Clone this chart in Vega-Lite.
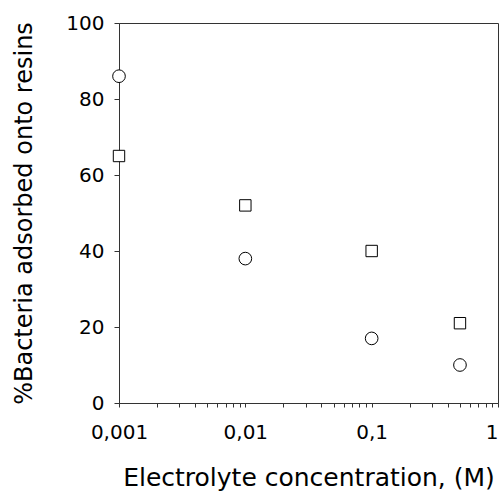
{
  "$schema": "https://vega.github.io/schema/vega-lite/v6.json",
  "width": 379,
  "height": 380,
  "autosize": {"type": "none"},
  "padding": {"left": 119, "top": 23, "right": 3, "bottom": 92},
  "background": "white",
  "config": {
    "view": {"stroke": "#333", "strokeWidth": 1},
    "font": "DejaVu Sans"
  },
  "data": {
    "values": [
      {"conc": 0.001, "pct": 86, "series": "A"},
      {"conc": 0.01, "pct": 38, "series": "A"},
      {"conc": 0.1, "pct": 17, "series": "A"},
      {"conc": 0.5, "pct": 10, "series": "A"},
      {"conc": 0.001, "pct": 65, "series": "B"},
      {"conc": 0.01, "pct": 52, "series": "B"},
      {"conc": 0.1, "pct": 40, "series": "B"},
      {"conc": 0.5, "pct": 21, "series": "B"}
    ]
  },
  "mark": {"type": "point", "filled": true, "fill": "white", "stroke": "black", "strokeWidth": 1, "opacity": 1, "clip": false},
  "encoding": {
    "x": {
      "field": "conc",
      "type": "quantitative",
      "scale": {"type": "log", "domain": [0.001, 1], "nice": false},
      "axis": {
        "title": "Electrolyte concentration, (M)",
        "values": [0.001,0.002,0.003,0.004,0.005,0.006,0.007,0.008,0.009,0.01,0.02,0.03,0.04,0.05,0.06,0.07,0.08,0.09,0.1,0.2,0.3,0.4,0.5,0.6,0.7,0.8,0.9,1],
        "labelExpr": "indexof([0.001,0.01,0.1,1], datum.value) >= 0 ? replace(toString(datum.value), '.', ',') : ''",
        "labelAlign": {"expr": "datum.value == 1 ? 'right' : 'center'"},
        "grid": false,
        "domainColor": "#333",
        "tickColor": "#333",
        "tickSize": 4,
        "labelFontSize": 20,
        "labelColor": "black",
        "labelPadding": 15,
        "labelFlush": false,
        "labelOverlap": false,
        "titleFontSize": 25,
        "titleFontWeight": "normal",
        "titleColor": "black",
        "titlePadding": 23
      }
    },
    "y": {
      "field": "pct",
      "type": "quantitative",
      "scale": {"domain": [0, 100], "nice": false},
      "axis": {
        "title": "%Bacteria adsorbed onto resins",
        "values": [0, 20, 40, 60, 80, 100],
        "grid": false,
        "domainColor": "#333",
        "tickColor": "#333",
        "tickSize": 5,
        "labelFontSize": 20,
        "labelColor": "black",
        "labelPadding": 10,
        "labelFlush": false,
        "titleFontSize": 24,
        "titleFontWeight": "normal",
        "titleColor": "black",
        "titlePadding": 29
      }
    },
    "shape": {
      "field": "series",
      "type": "nominal",
      "scale": {"domain": ["A", "B"], "range": ["circle", "square"]},
      "legend": null
    },
    "size": {
      "field": "series",
      "type": "nominal",
      "scale": {"domain": ["A", "B"], "range": [160, 130]},
      "legend": null
    }
  }
}
